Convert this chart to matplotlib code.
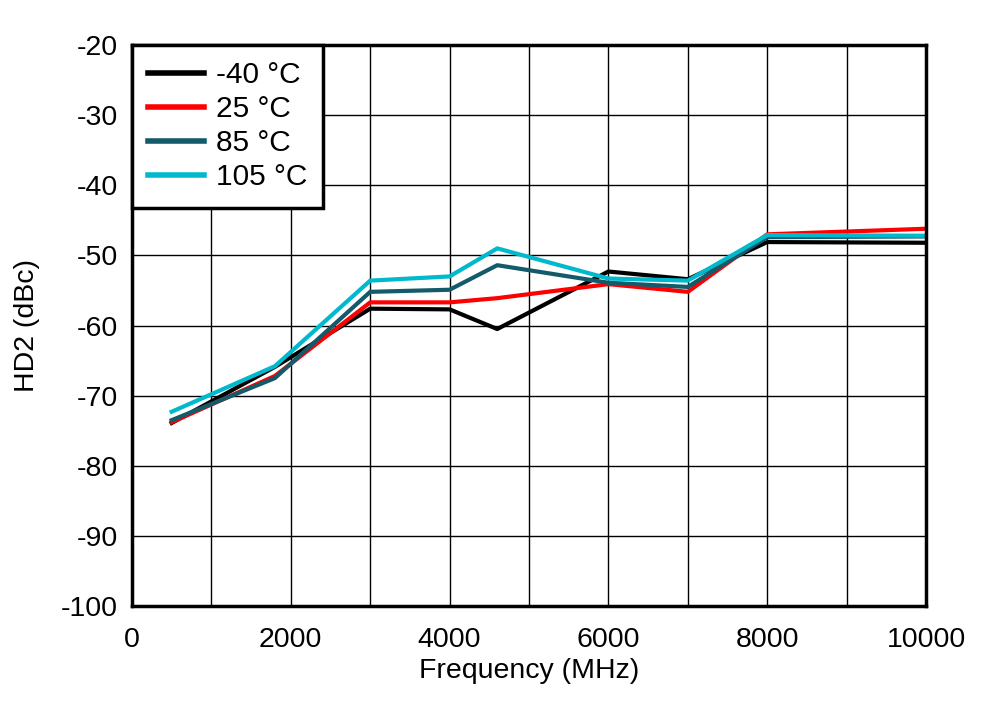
import matplotlib.pyplot as plt

plt.rcParams['font.family'] = ['Liberation Sans', 'DejaVu Sans']
plt.rcParams['axes.unicode_minus'] = False

freq = [500, 1800, 3000, 4000, 4600, 6000, 7000, 8000, 10000]
hd2_m40 = [-73.9, -65.9, -57.6, -57.7, -60.5, -52.3, -53.4, -48.1, -48.2]
hd2_25 = [-73.8, -67.2, -56.7, -56.7, -56.1, -54.1, -55.2, -47.0, -46.2]
hd2_85 = [-73.5, -67.5, -55.2, -54.9, -51.4, -53.9, -54.5, -47.4, -47.3]
hd2_105 = [-72.3, -65.8, -53.6, -53.0, -49.0, -53.3, -53.6, -47.1, -47.2]

labels = ['-40 °C', '25 °C', '85 °C', '105 °C']
colors = ['#000000', '#ff0000', '#135a6b', '#00b9cc']
series = [hd2_m40, hd2_25, hd2_85, hd2_105]

fs = 20.5
fig = plt.figure(figsize=(9.9, 7.01), dpi=100)
ax = fig.add_axes([0.1333, 0.1355, 0.8021, 0.8003])

for vals, lab, c in zip(series, labels, colors):
    ax.plot(freq, vals, color=c, lw=3, label=lab)

ax.set_xlim(0, 10000)
ax.set_ylim(-100, -20)
ax.set_xticks(range(0, 10001, 2000))
ax.set_xticks(range(0, 10001, 1000), minor=True)
ax.set_yticks(range(-100, -19, 10))
ax.grid(True, which='both', color='black', lw=1)
ax.tick_params(axis='both', which='both', length=0, labelsize=fs, pad=10)
ax.tick_params(axis='x', pad=15)
for s in ax.spines.values():
    s.set_linewidth(2.5)

ax.set_xlabel('Frequency (MHz)', fontsize=fs, labelpad=4)
ax.set_ylabel('HD2 (dBc)', fontsize=fs, labelpad=15)

leg = ax.legend(loc='upper left', fontsize=21.5, fancybox=False, framealpha=1,
                edgecolor='black', borderaxespad=0, handlelength=1.85,
                handletextpad=0.4, labelspacing=0.2, borderpad=0.55)
leg.get_frame().set_linewidth(2.5)
for h in leg.get_lines():
    h.set_linewidth(4)

plt.savefig('out.png', dpi=100)
